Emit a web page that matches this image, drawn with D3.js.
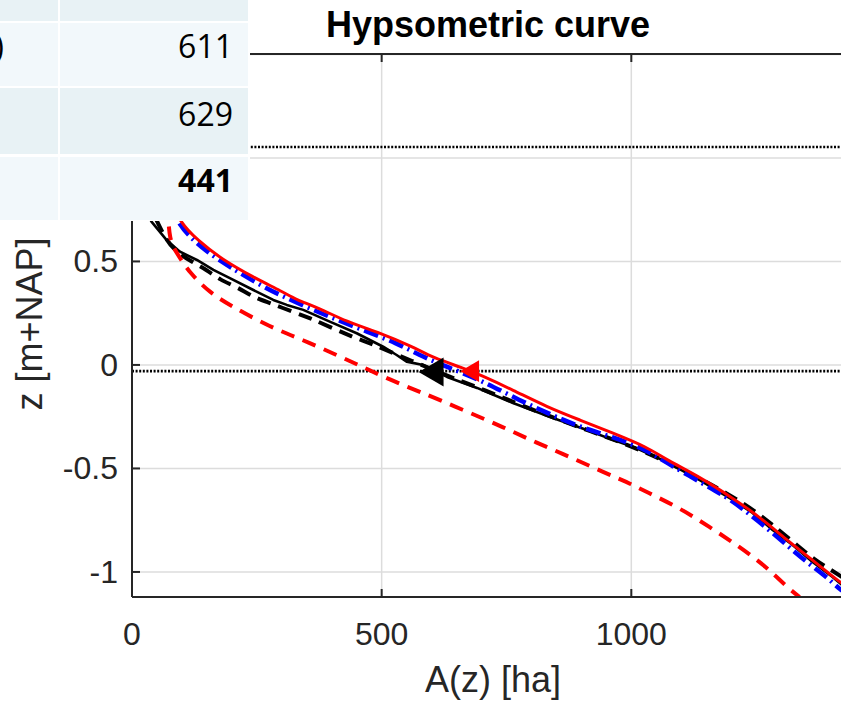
<!DOCTYPE html>
<html>
<head>
<meta charset="utf-8">
<script src="https://cdn.jsdelivr.net/npm/d3@7"></script>
<style>
body { margin: 0; background: #fff; }
svg { display: block; }
</style>
</head>
<body>
<script>
// hypsometric curves, [A (ha), z (m+NAP)]
var blackSolid = [[5,0.9],[20,0.78],[39,0.692],[69,0.604],[96,0.547],[130,0.507],[163,0.459],[196,0.419],[243,0.362],[283,0.314],[310,0.29],[343,0.266],[396,0.209],[450,0.153],[503,0.088],[530,0.048],[550,0.016],[583,0.0],[631,-0.058],[691,-0.111],[763,-0.184],[843,-0.256],[911,-0.314],[963,-0.362],[1004,-0.396],[1071,-0.469],[1137,-0.556],[1203,-0.652],[1243,-0.715],[1283,-0.797],[1323,-0.87],[1363,-0.952],[1403,-1.024],[1440,-1.1]];
var blackDashed = [[30,0.8],[60,0.64],[82,0.556],[120,0.498],[150,0.459],[176,0.411],[210,0.377],[246,0.324],[276,0.3],[322,0.256],[356,0.227],[396,0.184],[442,0.135],[476,0.106],[530,0.05],[600,-0.02],[650,-0.07],[700,-0.115],[800,-0.215],[900,-0.305],[1000,-0.39],[1100,-0.5],[1200,-0.63],[1250,-0.71],[1283,-0.773],[1327,-0.86],[1367,-0.942],[1410,-1.005],[1445,-1.06]];
var blueDashDot = [[70,0.8],[92,0.686],[116,0.618],[150,0.546],[196,0.473],[262,0.377],[330,0.3],[396,0.232],[462,0.169],[530,0.106],[583,0.039],[631,-0.01],[697,-0.072],[763,-0.155],[831,-0.232],[897,-0.3],[963,-0.348],[1031,-0.411],[1071,-0.473],[1137,-0.565],[1191,-0.638],[1231,-0.71],[1271,-0.787],[1311,-0.87],[1351,-0.952],[1391,-1.024],[1419,-1.087],[1440,-1.12]];
var redSolid = [[75,0.8],[96,0.691],[130,0.604],[182,0.507],[242,0.425],[302,0.353],[330,0.314],[370,0.28],[430,0.208],[497,0.155],[563,0.087],[603,0.034],[663,-0.014],[697,-0.048],[763,-0.121],[831,-0.203],[897,-0.266],[963,-0.329],[1031,-0.396],[1071,-0.459],[1137,-0.541],[1203,-0.643],[1257,-0.734],[1311,-0.845],[1363,-0.942],[1419,-1.053],[1460,-1.12]];
var redDashed = [[70,0.78],[74,0.66],[76,0.618],[82,0.57],[96,0.517],[116,0.444],[156,0.348],[202,0.28],[276,0.184],[342,0.121],[410,0.048],[462,-0.01],[517,-0.072],[577,-0.13],[663,-0.217],[743,-0.3],[811,-0.377],[877,-0.444],[943,-0.517],[991,-0.565],[1031,-0.614],[1097,-0.691],[1157,-0.783],[1217,-0.879],[1271,-0.976],[1311,-1.072],[1337,-1.121]];
var markers = [[600,-0.034,"#000",1],[677,-0.03,"#ff0000",0.75]];
var refLevels = [1.053, -0.03];

var xTicks = [0, 500, 1000];
var yTicks = [-1, -0.5, 0, 0.5, 1, 1.5];

// table in the top left corner
var tableRows = ["", "611", "629", "441"];
var tableLeft = ["", ")", "", ""];

var width = 841, height = 701;
var axL = 132, axR = 856, axT = 54, axB = 597;

var svg = d3.select("body").append("svg")
    .attr("width", width)
    .attr("height", height)
    .style("font-family", "'Liberation Sans', Arial, sans-serif");

var x = d3.scaleLinear().domain([0, 1450]).range([axL, axR]);
var y = d3.scaleLinear().domain([-1.121, 1.502]).range([axB, axT]);

svg.append("defs").append("clipPath").attr("id", "clip")
  .append("rect").attr("x", axL).attr("y", axT)
  .attr("width", axR - axL).attr("height", axB - axT);

// grid
svg.append("g").selectAll("line").data(xTicks.slice(1)).enter().append("line")
    .attr("x1", d => x(d)).attr("x2", d => x(d))
    .attr("y1", axT).attr("y2", axB)
    .attr("stroke", "#dcdcdc").attr("stroke-width", 1.5);
svg.append("g").selectAll("line").data(yTicks).enter().append("line")
    .attr("x1", axL).attr("x2", axR)
    .attr("y1", d => y(d)).attr("y2", d => y(d))
    .attr("stroke", "#dcdcdc").attr("stroke-width", 1.5);

// dotted reference levels
svg.append("g").selectAll("line").data(refLevels).enter().append("line")
    .attr("x1", axL).attr("x2", axR)
    .attr("y1", d => y(d)).attr("y2", d => y(d))
    .attr("stroke", "#000").attr("stroke-width", 2.6)
    .attr("stroke-dasharray", "2,1.6");

var smooth = d3.line().x(d => x(d[0])).y(d => y(d[1])).curve(d3.curveBasis);
var rough = d3.line().x(d => x(d[0])).y(d => y(d[1]));
var plot = svg.append("g").attr("clip-path", "url(#clip)");

function drawCurve(data, gen, color, w, dash) {
  plot.append("path")
    .datum(data)
    .attr("d", gen)
    .attr("fill", "none")
    .attr("stroke", color)
    .attr("stroke-width", w)
    .attr("stroke-linejoin", "round")
    .attr("stroke-dasharray", dash);
}

drawCurve(blackDashed, smooth, "#000", 4, "14,8");
drawCurve(blackSolid, rough, "#000", 2.6, null);
drawCurve(blueDashDot, smooth, "#0000ff", 4.5, "15,5,2,5");
drawCurve(redSolid, smooth, "#ff0000", 3, null);
drawCurve(redDashed, smooth, "#ff0000", 4, "14,9");

plot.selectAll(".mk").data(markers).enter().append("path")
    .attr("transform", d => "translate(" + x(d[0]) + "," + y(d[1]) + ") scale(" + d[3] + ")")
    .attr("d", "M-13,0L12,-14.5L12,14.5Z")
    .attr("fill", d => d[2]);

// axes box
var ax = svg.append("g").attr("stroke", "#262626").attr("stroke-width", 2).attr("fill", "none");
ax.append("line").attr("x1", axL).attr("x2", axR).attr("y1", axT).attr("y2", axT);
ax.append("line").attr("x1", axL).attr("x2", axR).attr("y1", axB).attr("y2", axB);
ax.append("line").attr("x1", axL).attr("x2", axL).attr("y1", axT).attr("y2", axB);
ax.selectAll(".tb").data(xTicks).enter().append("line")
    .attr("x1", d => x(d)).attr("x2", d => x(d)).attr("y1", axB).attr("y2", axB - 8);
ax.selectAll(".tt").data(xTicks).enter().append("line")
    .attr("x1", d => x(d)).attr("x2", d => x(d)).attr("y1", axT).attr("y2", axT + 8);
ax.selectAll(".tl").data(yTicks).enter().append("line")
    .attr("x1", axL).attr("x2", axL + 8).attr("y1", d => y(d)).attr("y2", d => y(d));

svg.append("g").selectAll("text").data(xTicks).enter().append("text")
    .attr("x", d => x(d)).attr("y", 645)
    .attr("text-anchor", "middle").attr("font-size", 32).attr("fill", "#262626")
    .text(d => d);
svg.append("g").selectAll("text").data(yTicks).enter().append("text")
    .attr("x", 118).attr("y", d => y(d) + 11)
    .attr("text-anchor", "end").attr("font-size", 32).attr("fill", "#262626")
    .text(d => d);

svg.append("text").attr("x", 493).attr("y", 692)
    .attr("text-anchor", "middle").attr("font-size", 36).attr("fill", "#262626")
    .text("A(z) [ha]");
svg.append("text").attr("transform", "translate(42,324) rotate(-90)")
    .attr("text-anchor", "middle").attr("font-size", 36).attr("fill", "#262626")
    .text("z [m+NAP]");
svg.append("text").attr("x", 488).attr("y", 37)
    .attr("text-anchor", "middle").attr("font-size", 36).attr("font-weight", "bold").attr("fill", "#000")
    .text("Hypsometric curve");

// table overlay
var rowY = [[0, 21], [23, 86], [88, 154], [157, 220]];
var rowFill = ["#e8f2f5", "#f2f8fb", "#e8f2f5", "#f2f8fb"];
var tbl = svg.append("g").style("font-family", "'Open Sans', 'Noto Sans', sans-serif");
tbl.append("rect").attr("x", 0).attr("y", 0).attr("width", 250).attr("height", 221).attr("fill", "#fff");
tbl.selectAll(".c1").data(rowY).enter().append("rect")
    .attr("x", 0).attr("y", d => d[0]).attr("width", 58).attr("height", d => d[1] - d[0])
    .attr("fill", (d, i) => rowFill[i]);
tbl.selectAll(".c2").data(rowY).enter().append("rect")
    .attr("x", 60).attr("y", d => d[0]).attr("width", 188).attr("height", d => d[1] - d[0])
    .attr("fill", (d, i) => rowFill[i]);
tbl.selectAll(".t2").data(tableRows).enter().append("text")
    .attr("x", 233).attr("y", (d, i) => rowY[i][1] - 28)
    .attr("text-anchor", "end").attr("font-size", 32)
    .attr("font-weight", (d, i) => i == 3 ? "bold" : "normal")
    .attr("fill", "#000").text(d => d);
tbl.selectAll(".t1").data(tableLeft).enter().append("text")
    .attr("x", 4).attr("y", (d, i) => rowY[i][1] - 28)
    .attr("text-anchor", "end").attr("font-size", 32)
    .attr("fill", "#000").text(d => d);
</script>
</body>
</html>
